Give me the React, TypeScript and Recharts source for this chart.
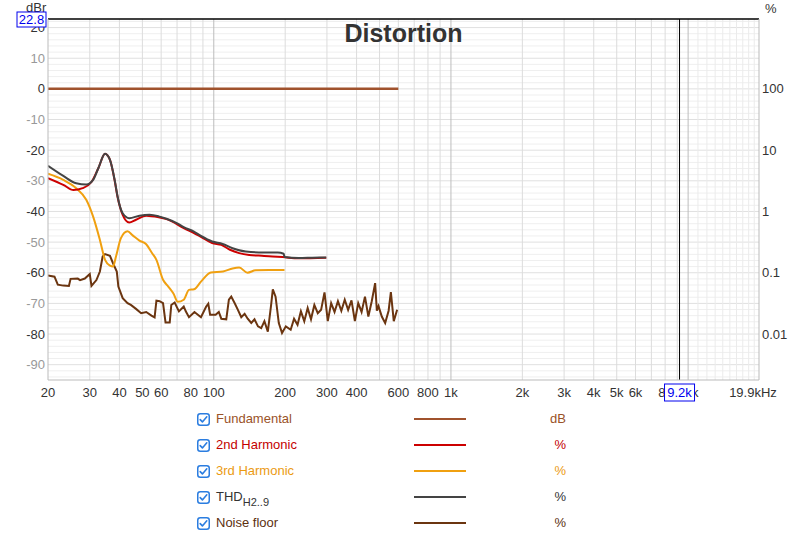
import { ComposedChart, Line, XAxis, YAxis, CartesianGrid, ReferenceLine } from "recharts";

type Pt = [number, number];

// frequency (Hz), level (dBr)
const fundamental: Pt[] = [[20, 0], [600, 0]];

const harmonic2: Pt[] = [
  [20, -29.1], [23.2, -31.3], [25.6, -33.0], [28, -32.4], [30.5, -30.4], [32.6, -25.9],
  [34.8, -21.2], [36.5, -23.2], [38.2, -29.9], [39.3, -35.3], [41.3, -41.1], [44, -43.6],
  [47, -42.7], [51.9, -41.4], [58.6, -41.9], [63.2, -42.5], [74.7, -45.4], [88.3, -48.3],
  [98.4, -50.3], [107.6, -50.9], [117, -52.5], [128, -53.6], [141, -54.2], [163, -54.5],
  [177, -54.7], [195, -54.9], [228, -55.3], [298, -55.1],
];

const harmonic3: Pt[] = [
  [20, -27.7], [23.2, -29.7], [26.3, -32.4], [29, -36.2], [31, -41.7], [33.1, -49.3],
  [34.8, -55.8], [36.5, -57.7], [37.6, -58.0], [38.7, -54.7], [40.6, -48.7], [43.3, -46.5],
  [45.5, -47.8], [48.6, -49.5], [51.9, -50.7], [54.8, -53.5], [57.3, -55.8], [61.1, -62.3],
  [64.3, -64.5], [67.6, -66.8], [70.5, -69.5], [74.7, -68.8], [78.6, -65.6], [82.5, -65.4],
  [88.3, -62.9], [97.2, -59.9], [109.4, -59.6], [120, -58.6], [128, -58.3], [138.7, -60.0],
  [150, -59.2], [171, -59.1], [198.7, -59.1],
];

const thd: Pt[] = [
  [20, -25.1], [23.2, -28.4], [26.3, -30.8], [29, -31.2], [31, -29.7], [32.6, -25.9],
  [34.8, -21.2], [36.5, -23.2], [38.2, -29.7], [39.3, -35.1], [41.3, -40.6], [44, -42.2],
  [48.6, -41.4], [53.6, -41.1], [58.6, -41.6], [63.2, -42.4], [69.8, -43.8], [74.7, -45.1],
  [82.5, -46.6], [88.3, -48.0], [98.4, -49.8], [109, -50.6], [120, -52.0], [136.5, -53.1],
  [162.8, -53.4], [186, -53.4], [197, -53.8], [199, -54.9], [228, -55.2], [260, -55.1],
  [298, -55.0],
];

const noiseFloor: Pt[] = [
  [20, -60.9], [21.3, -61.3], [22, -63.9], [23.2, -64.2], [24.5, -64.3], [24.9, -62.0],
  [26.7, -61.9], [27.3, -62.4], [28.6, -61.9], [30, -60.4], [30.5, -64.3], [32, -62.4],
  [33.1, -59.6], [34, -54.7], [34.8, -53.9], [36.5, -54.5], [37.6, -56.9], [39, -59.6],
  [39.6, -64.5], [41.3, -68.3], [43.3, -69.9], [44.7, -70.5], [47, -71.8], [49.4, -73.2],
  [51.9, -72.8], [54.6, -74.0], [56.3, -74.6], [57.3, -69.1], [59.1, -69.3], [61.1, -69.9],
  [62.6, -76.2], [65.2, -76.2], [66.2, -70.5], [68.4, -69.7], [71.3, -72.6], [74.7, -71.0],
  [76.2, -72.6], [78.6, -74.5], [82.9, -72.8], [88.3, -74.5], [92.9, -71.0], [94.8, -70.1],
  [96.5, -73.7], [101.8, -73.7], [105, -72.8], [107.6, -75.0], [112.9, -75.2], [115.8, -68.8],
  [118.5, -67.8], [122.4, -69.9], [126.4, -72.1], [130.6, -74.5], [134.9, -73.4], [139, -75.0],
  [143.9, -76.4], [148.5, -75.2], [153.6, -77.5], [158.5, -78.1], [163.5, -75.8], [169, -79.2],
  [174.5, -70.5], [177.4, -65.4], [182.2, -67.8], [188, -76.4], [194, -79.7], [201.3, -77.5],
  [211, -78.6], [218, -75.0], [225.5, -77.0], [233, -72.6], [240.8, -75.8], [248.8, -71.5],
  [257, -75.2], [265.5, -70.5], [274.5, -73.2], [283.5, -72.1], [293, -66.4], [302.5, -75.8],
  [312.5, -69.9], [323, -72.8], [333.8, -69.3], [345, -72.4], [356.6, -68.8], [368.5, -72.1],
  [380.8, -69.0], [393.5, -75.8], [406.5, -69.9], [420, -72.8], [434, -67.8], [448.5, -74.3],
  [463.5, -69.3], [479, -63.4], [487, -72.4], [495, -70.9], [511, -74.3], [528, -76.4],
  [546, -72.4], [558, -66.3], [574, -75.8], [593, -72.1],
];

const freqTicks = [20, 30, 40, 50, 60, 80, 100, 200, 300, 400, 600, 800, 1000, 2000, 3000, 4000, 5000, 6000, 8000, 10000, 19900];
const dbTicks = [20, 10, 0, -10, -20, -30, -40, -50, -60, -70, -80, -90];
const pctTicks = [0, -20, -40, -60, -80];
const pctLabels = ["100", "10", "1", "0.1", "0.01"];

const cursorFreq = 9200;
const cursorFreqLabel = "9.2k";
const cursorLevel = 22.8;

const legendItems = [
  { name: "Fundamental", unit: "dB", color: "#a0522d", text: "#9a5228" },
  { name: "2nd Harmonic", unit: "%", color: "#cc0000", text: "#c40000" },
  { name: "3rd Harmonic", unit: "%", color: "#f0a010", text: "#eb9a12" },
  { name: "THD", sub: "H2..9", unit: "%", color: "#444444", text: "#333333" },
  { name: "Noise floor", unit: "%", color: "#6b3510", text: "#5c300f" },
];

const FONT = "'Liberation Sans', Arial, Helvetica, sans-serif";
const CURSOR_BLUE = "#0000ee";

const toRows = (pts: Pt[]) => pts.map(([f, v]) => ({ f, v }));

const fmtFreq = (f: number) => {
  if (f === 19900) return "19.9kHz";
  if (f >= 1000) return `${f / 1000}k`;
  return String(f);
};

const minorH: number[] = [];
for (let d = -94; d <= 22; d += 2) if (d % 10 !== 0) minorH.push(d);
const majorH = [20, 10, 0, -10, -20, -30, -40, -50, -60, -70, -80, -90];
const minorV: number[] = [];
for (let f = 30; f < 100; f += 10) minorV.push(f);
for (let f = 200; f < 1000; f += 100) minorV.push(f);
for (let f = 2000; f < 10000; f += 1000) minorV.push(f);
const majorV = [100, 1000, 10000];
const faintV: number[] = [];
for (let f = 11000; f < 20000; f += 1000) faintV.push(f);

// cursor readouts are drawn as the last tick so they sit on top of the other labels
const FreqTick = (props: any) => {
  const { x, y, payload } = props;
  const v = payload.value;
  if (v === cursorFreq) {
    return (
      <g>
        <rect x={x - 15} y={y - 4} width={30} height={17} fill="#fff" stroke={CURSOR_BLUE} strokeWidth={1} />
        <text x={x} y={y} dy="0.71em" textAnchor="middle" fontSize={13} fontFamily={FONT} fill={CURSOR_BLUE}>
          {cursorFreqLabel}
        </text>
      </g>
    );
  }
  return (
    <text x={v === 19900 ? x - 6 : x} y={y} dy="0.71em" textAnchor="middle" fontSize={13} fontFamily={FONT} fill="#333">
      {fmtFreq(v)}
    </text>
  );
};

const DbTick = (props: any) => {
  const { x, y, payload } = props;
  const v = payload.value;
  if (v === cursorLevel) {
    return (
      <g>
        <rect x={x - 28} y={y - 7} width={29} height={15} fill="#fff" stroke={CURSOR_BLUE} strokeWidth={1} />
        <text x={x - 13.5} y={y} dy="0.355em" textAnchor="middle" fontSize={13} fontFamily={FONT} fill={CURSOR_BLUE}>
          {v}
        </text>
      </g>
    );
  }
  const strong = v % 20 === 0;
  return (
    <text x={x} y={y} dy="0.355em" textAnchor="end" fontSize={13} fontFamily={FONT} fill={strong ? "#333" : "#999"}>
      {v}
    </text>
  );
};

const PctTick = (props: any) => {
  const { x, y, payload } = props;
  const i = pctTicks.indexOf(payload.value);
  return (
    <text x={x} y={y} dy="0.355em" textAnchor="start" fontSize={13} fontFamily={FONT} fill="#333">
      {pctLabels[i]}
    </text>
  );
};

const CheckBox = () => (
  <svg width={13} height={13} style={{ position: "absolute", left: 197, top: -6 }}>
    <rect x={0.75} y={0.75} width={11.5} height={11.5} rx={2.5} fill="#fff" stroke="#2b7de0" strokeWidth={1.5} />
    <path d="M3.2 6.6 L5.4 8.9 L9.8 3.8" fill="none" stroke="#2b7de0" strokeWidth={1.6} strokeLinecap="round" strokeLinejoin="round" />
  </svg>
);

export default function App() {
  return (
    <div style={{ position: "absolute", left: 0, top: 0, width: 800, height: 538, background: "#fff", fontFamily: FONT }}>
      <div style={{ position: "absolute", left: 26, top: 0, fontSize: 13, color: "#333" }}>dBr</div>
      <div style={{ position: "absolute", left: 765, top: 1, fontSize: 13, color: "#333" }}>%</div>
      <ComposedChart width={800} height={405} margin={{ top: 19, right: 0, bottom: 0, left: 0 }}>
        <CartesianGrid yAxisId="db" vertical={false} horizontalValues={minorH} stroke="#efefef" />
        <CartesianGrid yAxisId="db" vertical={false} horizontalValues={majorH} stroke="#e0e0e0" />
        <CartesianGrid yAxisId="db" horizontal={false} verticalValues={faintV} stroke="#ebebeb" />
        <CartesianGrid yAxisId="db" horizontal={false} verticalValues={minorV} stroke="#dcdcdc" />
        <CartesianGrid yAxisId="db" horizontal={false} verticalValues={majorV} stroke="#bdbdbd" />
        <XAxis
          dataKey="f"
          type="number"
          scale="log"
          domain={[20, 19900]}
          allowDataOverflow
          ticks={[...freqTicks, cursorFreq]}
          interval={0}
          height={25}
          tickSize={0}
          tickMargin={8}
          tickLine={false}
          axisLine={{ stroke: "#bbb" }}
          tick={<FreqTick />}
        />
        <YAxis
          yAxisId="db"
          type="number"
          domain={[-95, cursorLevel]}
          allowDataOverflow
          ticks={[...dbTicks, cursorLevel]}
          interval={0}
          width={48}
          tickSize={0}
          tickMargin={3}
          tickLine={false}
          axisLine={{ stroke: "#bbb" }}
          tick={<DbTick />}
        />
        <YAxis
          yAxisId="pct"
          orientation="right"
          type="number"
          domain={[-95, cursorLevel]}
          allowDataOverflow
          ticks={pctTicks}
          interval={0}
          width={41}
          tickSize={0}
          tickMargin={3}
          tickLine={false}
          axisLine={{ stroke: "#bbb" }}
          tick={<PctTick />}
        />
        <Line yAxisId="db" data={toRows(noiseFloor)} dataKey="v" type="linear" stroke="#6b3510" strokeWidth={2} dot={false} isAnimationActive={false} />
        <Line yAxisId="db" data={toRows(harmonic3)} dataKey="v" type="monotone" stroke="#f0a010" strokeWidth={2} dot={false} isAnimationActive={false} />
        <Line yAxisId="db" data={toRows(harmonic2)} dataKey="v" type="monotone" stroke="#cc0000" strokeWidth={2} dot={false} isAnimationActive={false} />
        <Line yAxisId="db" data={toRows(thd)} dataKey="v" type="monotone" stroke="#444444" strokeWidth={2} dot={false} isAnimationActive={false} />
        <Line yAxisId="db" data={toRows(fundamental)} dataKey="v" type="linear" stroke="#a0522d" strokeWidth={2.5} dot={false} isAnimationActive={false} />
        <ReferenceLine yAxisId="db" y={cursorLevel} stroke="#000" strokeWidth={1.5} />
        <ReferenceLine yAxisId="db" x={cursorFreq} stroke="#000" strokeWidth={1} />
      </ComposedChart>
      <div style={{ position: "absolute", left: 0, top: 19, width: 807, textAlign: "center", fontSize: 25, fontWeight: "bold", color: "#333" }}>
        Distortion
      </div>
      {legendItems.map((item, i) => (
        <div key={item.name} style={{ position: "absolute", left: 0, top: 419 + i * 26, width: 800, height: 0 }}>
          <CheckBox />
          <div style={{ position: "absolute", left: 216, top: -8, fontSize: 13, color: item.text, whiteSpace: "nowrap", lineHeight: "15px" }}>
            {item.name}
            {item.sub ? <sub style={{ fontSize: 11, verticalAlign: "-5px" }}>{item.sub}</sub> : null}
          </div>
          <div style={{ position: "absolute", left: 414, top: -1, width: 52, height: 2, background: item.color }} />
          <div style={{ position: "absolute", left: 466, top: -8, width: 100, textAlign: "right", fontSize: 13, color: item.text, lineHeight: "15px" }}>
            {item.unit}
          </div>
        </div>
      ))}
    </div>
  );
}
